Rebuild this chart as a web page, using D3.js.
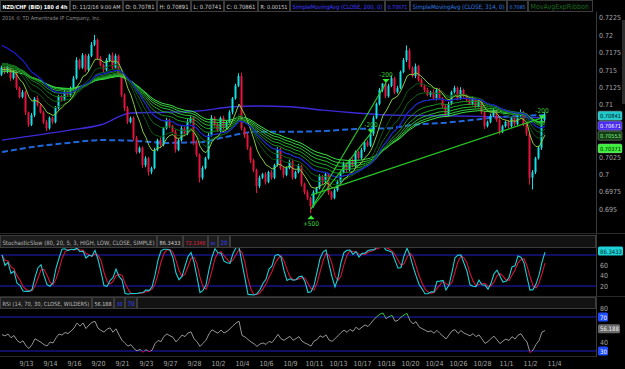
<!DOCTYPE html>
<html>
<head>
<meta charset="utf-8">
<script src="https://cdn.jsdelivr.net/npm/d3@7"></script>
<style>
  html, body { margin: 0; padding: 0; background: #000; }
  svg { display: block; }
</style>
</head>
<body>
<svg id="chart" width="625" height="369"></svg>
<script>
// ---- data (NZD/CHF 4h bars, 9/12 - 11/2) ----
const firstOpen = 0.7143;
const closes = [
  0.7153,0.7147,0.7155,0.7138,0.7147,0.7124,0.7111,0.7118,0.7089,0.7071,
  0.7085,0.7109,0.7099,0.7089,0.7075,0.7066,0.7081,0.7075,0.7095,0.7112,
  0.7107,0.7118,0.7114,0.7124,0.7138,0.7164,0.7153,0.7171,0.7150,0.7170,
  0.7186,0.7193,0.7167,0.7157,0.7150,0.7164,0.7171,0.7153,0.7170,0.7143,
  0.7114,0.7095,0.7075,0.7081,0.7052,0.7032,0.7038,0.7013,0.7023,0.7003,
  0.7009,0.7035,0.7049,0.7042,0.7066,0.7078,0.7069,0.7061,0.7035,0.7049,
  0.7066,0.7058,0.7075,0.7081,0.7046,0.7028,0.6995,0.7009,0.7023,0.7056,
  0.7081,0.7071,0.7063,0.7081,0.7066,0.7075,0.7089,0.7109,0.7127,0.7141,
  0.7066,0.7056,0.7038,0.7020,0.7006,0.6983,0.6995,0.7000,0.6989,0.7003,
  0.6995,0.7013,0.7035,0.7009,0.6999,0.7009,0.7018,0.6995,0.7003,0.7012,
  0.6986,0.6974,0.6966,0.6954,0.6974,0.6980,0.6997,0.6989,0.7000,0.6974,
  0.6966,0.6977,0.6989,0.7003,0.7015,0.7006,0.7020,0.7012,0.7032,0.7023,
  0.7035,0.7046,0.7041,0.7058,0.7081,0.7101,0.7121,0.7130,0.7112,0.7127,
  0.7138,0.7118,0.7124,0.7147,0.7164,0.7178,0.7153,0.7141,0.7155,0.7135,
  0.7127,0.7121,0.7114,0.7118,0.7109,0.7121,0.7109,0.7098,0.7086,0.7101,
  0.7118,0.7124,0.7109,0.7121,0.7112,0.7107,0.7101,0.7109,0.7098,0.7104,
  0.7089,0.7069,0.7075,0.7084,0.7092,0.7078,0.7061,0.7069,0.7075,0.7069,
  0.7081,0.7072,0.7084,0.7089,0.7072,0.7058,0.6995,0.7003,0.7023,0.7038,
  0.7078,0.7086
];
// wick lengths in pips above / below the body
const upWick = [
  3,2,4,2,3,2,2,3,2,1, 3,2,4,2,2,3,2,2,3,2, 2,3,2,2,3,4,2,3,2,3,
  4,7,2,3,2,3,2,4,3,2, 2,2,3,2,2,3,2,2,3,2, 2,3,2,4,2,3,2,2,3,2,
  3,2,4,2,2,3,2,3,2,3, 4,2,3,2,3,2,3,2,3,4, 5,2,3,2,2,2,3,2,3,2,
  3,2,4,3,2,2,3,2,2,3, 2,2,3,2,3,2,3,2,3,2, 2,2,3,2,3,2,2,3,2,2,
  3,2,3,2,3,2,3,1,2,3, 4,2,3,2,3,7,3,2,4,2, 3,2,3,2,4,2,3,2,2,3,
  2,3,2,4,2,3,2,3,2,2, 3,2,2,3,4,2,3,2,2,3, 2,3,2,4,2,3,2,3,2,3,
  3,3
];
const downWick = [
  2,3,2,4,2,3,2,2,4,3, 2,3,2,2,3,4,2,3,2,2, 3,2,2,3,2,2,3,2,3,2,
  2,2,3,2,4,2,3,2,2,3, 3,4,3,2,4,3,2,4,3,5, 3,2,2,3,2,2,3,2,4,2,
  2,3,2,2,4,3,7,3,2,2, 2,3,2,3,2,2,2,3,2,2, 3,4,3,4,3,10,3,2,4,2,
  3,2,2,3,4,2,2,3,2,2, 4,3,3,10,2,3,2,3,2,4, 3,2,2,3,2,3,2,2,3,2,
  2,3,2,2,3,2,2,3,3,2, 2,3,2,2,2,3,3,2,3,2, 2,3,2,3,2,3,2,3,4,2,
  2,2,3,2,2,3,2,2,3,2, 3,4,2,2,2,3,4,2,2,3, 2,3,2,2,3,3,10,17,3,2,
  3,4
];

const tickIndex = [8,16,24,32,40,48,56,64,72,80,88,96,104,112,120,128,136,144,152,160,168,176,184];
const tickLabels = ["9/13","9/14","9/16","9/20","9/21","9/23","9/27","9/28","10/2","10/4","10/6","10/9",
  "10/11","10/13","10/17","10/18","10/20","10/24","10/26","10/28","11/1","11/2","11/4"];
const priceTicks = [0.695,0.6975,0.7,0.7025,0.705,0.7075,0.71,0.7125,0.715,0.7175,0.72,0.7225];

// simple moving averages 200 / 314 (values read at bar index)
const sma200Idx = [0,22,33,43,55,66,77,85,96,107,118,129,148,170,181];
const sma200Val = [0.7049,0.7063,0.7071,0.7088,0.7089,0.7091,0.7097,0.7098,0.7097,0.7092,0.7088,0.7085,0.7084,0.7082,0.7081];
const sma314Idx = [0,10,22,33,44,55,66,74,85,96,107,118,129,137,148,159,163,181];
const sma314Val = [0.7032,0.7039,0.7045,0.7049,0.7048,0.7045,0.7046,0.7053,0.7061,0.7061,0.7062,0.7065,0.7066,0.7071,0.7074,0.7079,0.7081,0.7085];

// exp ribbon lengths and starting values at the left edge
const ribbonLen = [8,14,20,26,32,38,44,50,56];
const ribbonSeed = [0.7150,0.7158,0.7160,0.7160,0.7158,0.7156,0.7153,0.7150,0.7147];
const ribbonColor = ["#86cc3c","#0d5511","#106716","#157b1b","#1a8f21","#21a428","#28b831","#31cc3b","#3ade45"];
const blueMaLen = 26, blueMaSeed = 0.7188;
// RSI starting average gain / loss
const rsiSeedGain = 0.0007, rsiSeedLoss = 0.0008;

// drawn trend lines and signal marks
const trendFrom = [[103,0.6950],[103,0.6950],[103,0.6970]];
const trendTo = [[128,0.7131],[123,0.7059],[180,0.7081]];
const markIdx = [128,123,180,103];
const markPrice = [0.7131,0.7059,0.7079,0.6941];
const markText = ["-200","-200","-200","+500"];
const markDir = [-1,-1,-1,1];

// right-hand price bubbles
const bubbleVal = [0.70841,0.70671,0.70553,0.70371];
const bubbleText = ["0.70841","0.70671","0.70553","0.70371"];
const bubbleFill = ["#1fc9cc","#4a2cf2","#103d12","#3cf03c"];
const bubbleInk = ["#001a1a","#ffffff","#8ff08f","#002000"];

// header texts
const headText = ["NZD/CHF (BID) 180 d 4h","D: 11/2/16 9:00 AM","O: 0.70781","H: 0.70891","L: 0.70741",
  "C: 0.70861","R: 0.00151","SimpleMovingAvg (CLOSE, 200, 0)","0.70671","SimpleMovingAvg (CLOSE, 314, 0)",
  "0.7085","MovAvgExpRibbon"];
const headEdge = [0,70,123,157,191,224,258,290,385,410,507,528,593];
const headColor = ["#ffffff","#cfcfcf","#cfcfcf","#cfcfcf","#cfcfcf","#cfcfcf","#cfcfcf","#3b3bff","#3b3bff",
  "#2f7ae0","#2f7ae0","#1b6a1b"];
const stochText = ["StochasticSlow (80, 20, 5, 3, HIGH, LOW, CLOSE, SIMPLE)","86.3433","72.1348","80","20"];
const stochEdge = [0,157,183,208,218,230];
const stochColor = ["#b4b4b4","#cfcfcf","#e3203f","#3344ff","#3344ff"];
const rsiText = ["RSI (14, 70, 30, CLOSE, WILDERS)","56.188","30","70"];
const rsiEdge = [0,92,114,125,137];
const rsiColor = ["#b4b4b4","#cfcfcf","#3344ff","#3344ff"];

const FONT = '"Liberation Sans Narrow","DejaVu Sans Condensed","Liberation Sans",sans-serif';
const PIP = 0.0001;
const W = 625, H = 369, plotR = 596;

// ---- derived series ----
const bars = closes.map((c, i) => {
  const o = i === 0 ? firstOpen : closes[i - 1];
  return { i, o, c, h: Math.max(o, c) + upWick[i] * PIP, l: Math.min(o, c) - downWick[i] * PIP };
});

function ema(vals, n, seed) {
  const k = 2 / (n + 1);
  let e = seed;
  return vals.map(v => (e = e + (v - e) * k));
}
function sma(vals, n) {
  return vals.map((v, i) => d3.mean(vals.slice(Math.max(0, i - n + 1), i + 1)));
}

// stochastic slow 5,3
const fastK = bars.map((b, i) => {
  const w = bars.slice(Math.max(0, i - 4), i + 1);
  const hh = d3.max(w, d => d.h), ll = d3.min(w, d => d.l);
  return hh === ll ? 50 : (b.c - ll) / (hh - ll) * 100;
});
const slowK = sma(fastK, 3);
const slowD = sma(slowK, 3);

// RSI 14 wilders
const rsi = [];
{
  let ag = rsiSeedGain, al = rsiSeedLoss;
  closes.forEach((c, i) => {
    const ch = c - (i === 0 ? firstOpen : closes[i - 1]);
    ag = (ag * 13 + Math.max(ch, 0)) / 14;
    al = (al * 13 + Math.max(-ch, 0)) / 14;
    rsi.push(100 - 100 / (1 + ag / al));
  });
}

// ---- scales ----
const x = d3.scaleLinear().domain([0, 198]).range([2, 596]);
const y = d3.scaleLinear().domain([0.695, 0.72]).range([209, 35]);
const yS = d3.scaleLinear().domain([20, 80]).range([286, 255]);
const yR = d3.scaleLinear().domain([30, 70]).range([351, 317]);

const svg = d3.select("#chart").attr("font-family", FONT);
svg.append("rect").attr("width", W).attr("height", H).attr("fill", "#000");

const defs = svg.append("defs");
function clip(id, x0, y0, w, h) {
  defs.append("clipPath").attr("id", id).append("rect").attr("x", x0).attr("y", y0).attr("width", w).attr("height", h);
}
clip("cMain", 0, 12, plotR, 221);
clip("cSt", 0, 248, plotR, 48);
clip("cRsHi", 0, 309, plotR, yR(70) - 309);
clip("cRsMid", 0, yR(70), plotR, yR(30) - yR(70));
clip("cRsLo", 0, yR(30), plotR, 357 - yR(30));

// text shrunk to fit a width
function fitText(sel, maxW, size) {
  sel.style("font-size", size + "px");
  const w = sel.node().getComputedTextLength();
  if (w > maxW) sel.style("font-size", (size * maxW / w).toFixed(2) + "px");
  return sel;
}

// ---- header boxes ----
function headerRow(texts, edges, colors, y0, h, fill, boldFirst) {
  const g = svg.append("g");
  texts.forEach((t, i) => {
    const x0 = edges[i], x1 = edges[i + 1];
    g.append("rect").attr("x", x0 + 0.5).attr("y", y0 + 0.5).attr("width", x1 - x0 - 1).attr("height", h)
      .attr("fill", fill).attr("stroke", "#3c3c3c");
    const tx = g.append("text").attr("x", x0 + 2.5).attr("y", y0 + h - 2)
      .attr("fill", colors[i])
      .attr("font-weight", boldFirst && i === 0 ? "bold" : null)
      .text(t);
    fitText(tx, x1 - x0 - 5, 7);
  });
  return g;
}
headerRow(headText, headEdge, headColor, 0, 11, "#050505", true);
fitText(svg.append("text").attr("x", 2).attr("y", 20).attr("fill", "#8c8c8c")
  .text("2016 \u00a9 TD Ameritrade IP Company, Inc."), 99, 6);

// ---- main price panel ----
const main = svg.append("g").attr("clip-path", "url(#cMain)");

// long SMAs
main.append("path").datum(sma200Idx.map((d, i) => [d, sma200Val[i]]))
  .attr("fill", "none").attr("stroke", "#3d2ad8").attr("stroke-width", 1.4)
  .attr("d", d3.line().x(d => x(d[0])).y(d => y(d[1])).curve(d3.curveMonotoneX));
main.append("path").datum(sma314Idx.map((d, i) => [d, sma314Val[i]]))
  .attr("fill", "none").attr("stroke", "#2067dc").attr("stroke-width", 2).attr("stroke-dasharray", "6,3")
  .attr("d", d3.line().x(d => x(d[0])).y(d => y(d[1])).curve(d3.curveMonotoneX));

// candles
const up = "#12e0e4", down = "#e8123f";
const gC = main.append("g");
gC.selectAll("line").data(bars).join("line")
  .attr("x1", d => x(d.i) - 0.5).attr("x2", d => x(d.i) - 0.5)
  .attr("y1", d => y(d.h)).attr("y2", d => y(d.l))
  .attr("stroke", d => d.c >= d.o ? up : down).attr("stroke-width", 1);
gC.selectAll("rect").data(bars).join("rect")
  .attr("x", d => x(d.i) - 1.5).attr("width", 2)
  .attr("y", d => y(Math.max(d.o, d.c)))
  .attr("height", d => Math.max(1, Math.abs(y(d.o) - y(d.c))))
  .attr("fill", d => d.c >= d.o ? up : down);

// ribbon + blue MA
const maLine = d3.line().x((d, i) => x(i)).y(d => y(d));
for (let k = ribbonLen.length - 1; k >= 0; k--) {
  main.append("path").datum(ema(closes, ribbonLen[k], ribbonSeed[k]))
    .attr("fill", "none").attr("stroke", ribbonColor[k]).attr("stroke-width", 1).attr("d", maLine);
}
main.append("path").datum(ema(closes, blueMaLen, blueMaSeed))
  .attr("fill", "none").attr("stroke", "#1c1cd2").attr("stroke-width", 1.2).attr("d", maLine);

// trend lines
trendFrom.forEach((f, i) => {
  main.append("line").attr("x1", x(f[0])).attr("y1", y(f[1]))
    .attr("x2", x(trendTo[i][0])).attr("y2", y(trendTo[i][1]))
    .attr("stroke", "#27c827").attr("stroke-width", 1.2);
});

// signal marks
markIdx.forEach((m, i) => {
  const cx = x(m), ty = y(markPrice[i]), dir = markDir[i];
  const tri = dir < 0
    ? `M${cx - 3.5},${ty - 4}L${cx + 3.5},${ty - 4}L${cx},${ty}Z`
    : `M${cx - 3.5},${ty + 4}L${cx + 3.5},${ty + 4}L${cx},${ty}Z`;
  main.append("path").attr("d", tri).attr("fill", "#33ee33");
  main.append("text").attr("x", cx).attr("y", dir < 0 ? ty - 6 : ty + 11)
    .attr("text-anchor", "middle").attr("fill", "#3bd23b").style("font-size", "6.5px").text(markText[i]);
});

// price axis (labels hidden behind the bubbles are left out)
svg.append("line").attr("x1", plotR + 0.5).attr("x2", plotR + 0.5).attr("y1", 12).attr("y2", 357)
  .attr("stroke", "#3a3a3a");
const bY = bubbleVal.map(v => y(v));
for (let i = bY.length - 2; i >= 0; i--) if (bY[i + 1] - bY[i] < 10) bY[i] = bY[i + 1] - 10;
const shownTicks = priceTicks.filter(t => bY.every(b => Math.abs(y(t) - b) > 8));
const yAx = svg.append("g").attr("transform", "translate(599,0)")
  .call(d3.axisRight(y).tickValues(shownTicks).tickSize(0).tickPadding(0).tickFormat(d => String(+d.toFixed(4))));
yAx.attr("font-family", FONT).select(".domain").remove();
yAx.selectAll("text").attr("fill", "#a4a4a4").style("font-size", "7px");
svg.append("rect").attr("x", 622).attr("y", 20).attr("width", 3).attr("height", 84).attr("fill", "#2c2c2c");

bubbleVal.forEach((v, i) => {
  svg.append("rect").attr("x", 598).attr("y", bY[i] - 4.5).attr("width", 24).attr("height", 9).attr("rx", 1.5)
    .attr("fill", bubbleFill[i]).attr("stroke", "#bbb").attr("stroke-width", 0.4);
  fitText(svg.append("text").attr("x", 600).attr("y", bY[i] + 2.5).attr("fill", bubbleInk[i])
    .text(bubbleText[i]), 21, 6.5);
});

// ---- stochastic panel ----
svg.append("line").attr("x1", 0).attr("x2", W).attr("y1", 233.5).attr("y2", 233.5).attr("stroke", "#2a2a2a");
headerRow(stochText, stochEdge, stochColor, 235, 12, "#1c1c1c", false);
svg.append("rect").attr("x", 230.5).attr("y", 235.5).attr("width", plotR - 231).attr("height", 12)
  .attr("fill", "#121212").attr("stroke", "#3c3c3c");

const st = svg.append("g").attr("clip-path", "url(#cSt)");
[80, 20].forEach(v => st.append("line").attr("x1", 0).attr("x2", plotR).attr("y1", yS(v)).attr("y2", yS(v))
  .attr("stroke", "#1e1ec8").attr("stroke-width", 1));
const stLine = d3.line().x((d, i) => x(i)).y(d => yS(d));
st.append("path").datum(slowD).attr("fill", "none").attr("stroke", "#d8123a").attr("stroke-width", 1.1).attr("d", stLine);
st.append("path").datum(slowK).attr("fill", "none").attr("stroke", "#1ccfd6").attr("stroke-width", 1.1).attr("d", stLine);

const sAx = svg.append("g").attr("transform", "translate(600,0)")
  .call(d3.axisRight(yS).tickValues([20, 40, 60]).tickSize(0).tickPadding(0));
sAx.attr("font-family", FONT).select(".domain").remove();
sAx.selectAll("text").attr("fill", "#a4a4a4").style("font-size", "7px");
svg.append("rect").attr("x", 598).attr("y", 246.5).attr("width", 25).attr("height", 9).attr("rx", 1.5).attr("fill", "#1fd2d8");
fitText(svg.append("text").attr("x", 600).attr("y", 253.5).attr("fill", "#002222").text("86.3433"), 22, 6.5);

// ---- RSI panel ----
svg.append("line").attr("x1", 0).attr("x2", W).attr("y1", 296.5).attr("y2", 296.5).attr("stroke", "#2a2a2a");
headerRow(rsiText, rsiEdge, rsiColor, 297, 11, "#1c1c1c", false);
svg.append("rect").attr("x", 137.5).attr("y", 297.5).attr("width", plotR - 138).attr("height", 11)
  .attr("fill", "#121212").attr("stroke", "#3c3c3c");

const rs = svg.append("g");
[70, 30].forEach(v => rs.append("line").attr("x1", 0).attr("x2", plotR).attr("y1", yR(v)).attr("y2", yR(v))
  .attr("stroke", "#1e1ec8").attr("stroke-width", 1));
const rsLine = d3.line().x((d, i) => x(i)).y(d => yR(d));
[["cRsHi", "#33c233"], ["cRsMid", "#959595"], ["cRsLo", "#d8123a"]].forEach(([c, col]) => {
  rs.append("path").datum(rsi).attr("clip-path", `url(#${c})`)
    .attr("fill", "none").attr("stroke", col).attr("stroke-width", 1).attr("d", rsLine);
});
svg.append("line").attr("x1", 0).attr("x2", plotR).attr("y1", 356.5).attr("y2", 356.5).attr("stroke", "#2a2a2a");

const rAx = svg.append("g").attr("transform", "translate(600,0)")
  .call(d3.axisRight(yR).tickValues([40, 80]).tickSize(0).tickPadding(0));
rAx.attr("font-family", FONT).select(".domain").remove();
rAx.selectAll("text").attr("fill", "#a4a4a4").style("font-size", "7px");
[[70, "70", "#1f4cff", "#fff", 10], [30, "30", "#1f4cff", "#fff", 10], [56.188, "56.188", "#6a6a6a", "#f0f0f0", 22]]
  .forEach(([v, t, f, ink, w]) => {
    svg.append("rect").attr("x", 598).attr("y", yR(v) - 4.5).attr("width", w).attr("height", 9).attr("rx", 1.5).attr("fill", f);
    fitText(svg.append("text").attr("x", 600).attr("y", yR(v) + 2.5).attr("fill", ink).text(t), w - 3, 6.5);
  });

// ---- time axis ----
const xAx = svg.append("g").attr("transform", "translate(0,358)")
  .call(d3.axisBottom(x).tickValues(tickIndex).tickSize(0).tickPadding(3).tickFormat((d, i) => tickLabels[i]));
xAx.attr("font-family", FONT).select(".domain").remove();
xAx.selectAll("text").attr("fill", "#a4a4a4").style("font-size", "7px");
</script>
</body>
</html>
